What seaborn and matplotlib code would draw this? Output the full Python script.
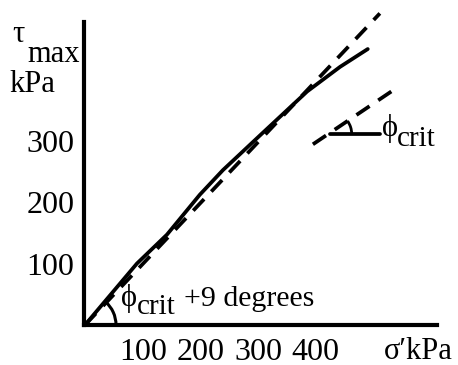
import numpy as np
import matplotlib
matplotlib.use("Agg")
import matplotlib.pyplot as plt
from matplotlib.patches import Arc
import seaborn as sns

sigma_curve = [0, 90, 142, 199, 239, 305, 385, 442, 490]
tau_curve = [0, 100, 147, 212, 252, 310, 380, 420, 449]

# phi_crit + 9 degrees line through origin
sigma_peak = [0, 511]
tau_peak = [0, 507]

# critical state line (phi_crit)
sigma_crit = [395, 542]
tau_crit = [294, 387]

# horizontal reference for the phi_crit angle
sigma_ref = [425, 511]
tau_ref = [311, 311]

xticks = [100, 200, 300, 400]
yticks = [100, 200, 300]

sns.set_style("white")
plt.rcParams['font.family'] = ['Liberation Serif', 'DejaVu Serif']

W, H = 458, 365
fig = plt.figure(figsize=(W / 100, H / 100), dpi=100)
ax = fig.add_axes([84 / W, (H - 325) / H, (437 - 84) / W, (325 - 22) / H])

lw = 2.7
sns.lineplot(x=sigma_curve, y=tau_curve, ax=ax, color='black', lw=lw, clip_on=False)
for xs, ys in [(sigma_peak, tau_peak), (sigma_crit, tau_crit)]:
    ln, = ax.plot(xs, ys, color='black', lw=lw, clip_on=False)
    ln.set_dashes((4.2, 2.8))
sns.lineplot(x=sigma_ref, y=tau_ref, ax=ax, color='black', lw=lw, clip_on=False)

ax.set_xlim(-1.7, 610)
ax.set_ylim(0, 493)

# angle arcs (sizes in pixels converted to data units)
px_x = 0.577   # px per kPa on x
px_y = 0.615   # px per kPa on y
ax.add_patch(Arc((0, 0), 2 * 31 / px_x, 2 * 31 / px_y, theta1=0, theta2=47,
                 color='black', lw=2.2, clip_on=False))
ax.add_patch(Arc((424, 311), 2 * 22 / px_x, 2 * 22 / px_y, theta1=0, theta2=34,
                 color='black', lw=2.0, clip_on=False))

for s in ['top', 'right']:
    ax.spines[s].set_visible(False)
for s in ['left', 'bottom']:
    ax.spines[s].set_linewidth(3)
    ax.spines[s].set_color('black')

ax.set_xticks(xticks)
ax.set_yticks(yticks)
ax.tick_params(axis='both', direction='out', length=4, width=2.5, color='black',
               labelsize=23, labelcolor='black')
ax.tick_params(axis='x', pad=5)
ax.tick_params(axis='y', pad=3)


def ftext(px, py, s, size, **kw):
    fig.text(px / W, 1 - py / H, s, fontsize=size, color='black', **kw)


# y axis label
ftext(12, 42, 'τ', 22, ha='left', va='baseline')
ftext(27, 62, 'max', 22, ha='left', va='baseline')
ftext(9, 92, 'kPa', 22, ha='left', va='baseline')

# x axis label
ftext(384, 359, 'σ′kPa', 22, ha='left', va='baseline')

# angle labels
ftext(121, 306, 'ϕ', 22, ha='left', va='baseline')
ftext(137, 314, 'crit', 21, ha='left', va='baseline')
ftext(184, 306, '+9 degrees', 21.5, ha='left', va='baseline')

ftext(382, 136, 'ϕ', 22, ha='left', va='baseline')
ftext(397, 146, 'crit', 21, ha='left', va='baseline')

fig.savefig('out.png', dpi=100)
